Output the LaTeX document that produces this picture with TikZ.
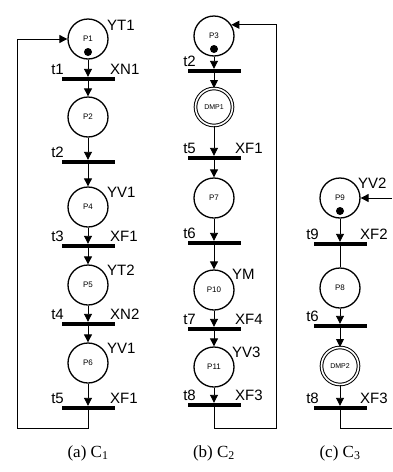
\documentclass[tikz,border=0pt]{standalone}
\usepackage{fontspec}
\setmainfont{Liberation Sans}
\newfontfamily\capfont{Liberation Serif}
\usetikzlibrary{arrows.meta}

\begin{document}
\begin{tikzpicture}[x=1pt,y=-1pt,
  place/.style={circle, draw, fill=white, line width=1.3pt, minimum size=40pt, inner sep=0pt, font=\fontsize{8}{8}\selectfont},
  macro/.style={place, double, line width=1pt, double distance=1.6pt, minimum size=37pt, font=\fontsize{7}{7}\selectfont},
  bar/.style={fill, minimum width=53pt, minimum height=4pt, inner sep=0pt},
  token/.style={circle, fill, inner sep=0pt, minimum size=8pt},
  lbl/.style={inner sep=0pt, font=\fontsize{15}{15}\selectfont},
  arc/.style={line width=0.9pt, -{Triangle[length=8pt,width=8pt]}},
  link/.style={line width=0.9pt},
  subcap/.style={font=\capfont\fontsize{17}{17}\selectfont}]
\useasboundingbox (0,0) rectangle (392,472);

% C1
\node[place] at (88,39) (P1) {P1};
\node[token] at (88,52) (m1) {};
\node[bar] at (88,79) (t1a) {};
\node[place] at (88,117) (P2) {P2};
\node[bar] at (88,162) (t2a) {};
\node[place] at (88,207) (P4) {P4};
\node[bar] at (88,246) (t3a) {};
\node[place] at (88,285) (P5) {P5};
\node[bar] at (88,324) (t4a) {};
\node[place] at (88,363) (P6) {P6};
\node[bar] at (88,408) (t5a) {};
\coordinate (ca) at (17,428);

\node[lbl, anchor=base west] at (107,30) (yP1) {YT1};
\node[lbl, anchor=base west] at (107,197) (yP4) {YV1};
\node[lbl, anchor=base west] at (107,275) (yP5) {YT2};
\node[lbl, anchor=base west] at (107,353) (yP6) {YV1};
\node[lbl, anchor=base east] at (64,74) (nt1a) {t1};
\node[lbl, anchor=base east] at (64,157) (nt2a) {t2};
\node[lbl, anchor=base east] at (64,241) (nt3a) {t3};
\node[lbl, anchor=base east] at (64,319) (nt4a) {t4};
\node[lbl, anchor=base east] at (64,403) (nt5a) {t5};
\node[lbl, anchor=base west] at (110,74) (xt1a) {XN1};
\node[lbl, anchor=base west] at (110,241) (xt3a) {XF1};
\node[lbl, anchor=base west] at (110,319) (xt4a) {XN2};
\node[lbl, anchor=base west] at (110,403) (xt5a) {XF1};

\draw[arc] (P1)->(t1a);
\draw[arc] (t1a)->(P2);
\draw[arc] (P2)->(t2a);
\draw[arc] (t2a)->(P4);
\draw[arc] (P4)->(t3a);
\draw[arc] (t3a)->(P5);
\draw[arc] (P5)->(t4a);
\draw[arc] (t4a)->(P6);
\draw[arc] (P6)->(t5a);
\draw[arc] (t5a.south) |- (ca) |- (P1.west);

% C2
\node[place] at (214,36) (P3) {P3};
\node[token] at (214,49) (m3) {};
\node[bar] at (214,71) (t2b) {};
\node[macro] at (214,107) (D1) {DMP1};
\node[bar] at (214,158) (t5b) {};
\node[place] at (214,198) (P7) {P7};
\node[bar] at (214,243) (t6b) {};
\node[place] at (214,290) (P10) {P10};
\node[bar] at (214,329) (t7b) {};
\node[place] at (214,367) (P11) {P11};
\node[bar] at (214,405) (t8b) {};
\coordinate (cb) at (276,428);

\node[lbl, anchor=base west] at (232,279) (yP10) {YM};
\node[lbl, anchor=base west] at (232,357) (yP11) {YV3};
\node[lbl, anchor=base east] at (196,66) (nt2b) {t2};
\node[lbl, anchor=base east] at (196,153) (nt5b) {t5};
\node[lbl, anchor=base east] at (196,238) (nt6b) {t6};
\node[lbl, anchor=base east] at (196,324) (nt7b) {t7};
\node[lbl, anchor=base east] at (196,400) (nt8b) {t8};
\node[lbl, anchor=base west] at (235,153) (xt5b) {XF1};
\node[lbl, anchor=base west] at (235,324) (xt7b) {XF4};
\node[lbl, anchor=base west] at (235,400) (xt8b) {XF3};

\draw[arc] (P3)->(t2b);
\draw[arc] (t2b)->(D1);
\draw[arc] (D1)->(t5b);
\draw[arc] (t5b)->(P7);
\draw[arc] (P7)->(t6b);
\draw[arc] (t6b)->(P10);
\draw[arc] (P10)->(t7b);
\draw[arc] (t7b)->(P11);
\draw[arc] (P11)->(t8b);
\draw[arc] (t8b.south) |- (cb) |- (P3.33);

% C3
\node[place] at (340,198) (P9) {P9};
\node[token] at (340,211) (m9) {};
\node[bar] at (340,244) (t9c) {};
\node[place] at (340,288) (P8) {P8};
\node[bar] at (340,326) (t6c) {};
\node[macro] at (340,366) (D2) {DMP2};
\node[bar] at (340,408) (t8c) {};
\coordinate (cin) at (392,198);
\coordinate (cout) at (392,428);

\node[lbl, anchor=base west] at (358,188) (yP9) {YV2};
\node[lbl, anchor=base east] at (319,239) (nt9c) {t9};
\node[lbl, anchor=base east] at (319,321) (nt6c) {t6};
\node[lbl, anchor=base east] at (319,403) (nt8c) {t8};
\node[lbl, anchor=base west] at (360,239) (xt9c) {XF2};
\node[lbl, anchor=base west] at (360,403) (xt8c) {XF3};

\draw[arc] (cin)->(P9);
\draw[arc] (P9)->(t9c);
\draw[link] (t9c)--(P8);
\draw[arc] (P8)->(t6c);
\draw[arc] (t6c)->(D2);
\draw[arc] (D2)->(t8c);
\draw[link] (t8c.south) |- (cout);

% captions
\node[subcap] at (88,453) (ca1) {(a) C\textsubscript{1}};
\node[subcap] at (214,453) (ca2) {(b) C\textsubscript{2}};
\node[subcap] at (340,453) (ca3) {(c) C\textsubscript{3}};

\end{tikzpicture}
\end{document}
